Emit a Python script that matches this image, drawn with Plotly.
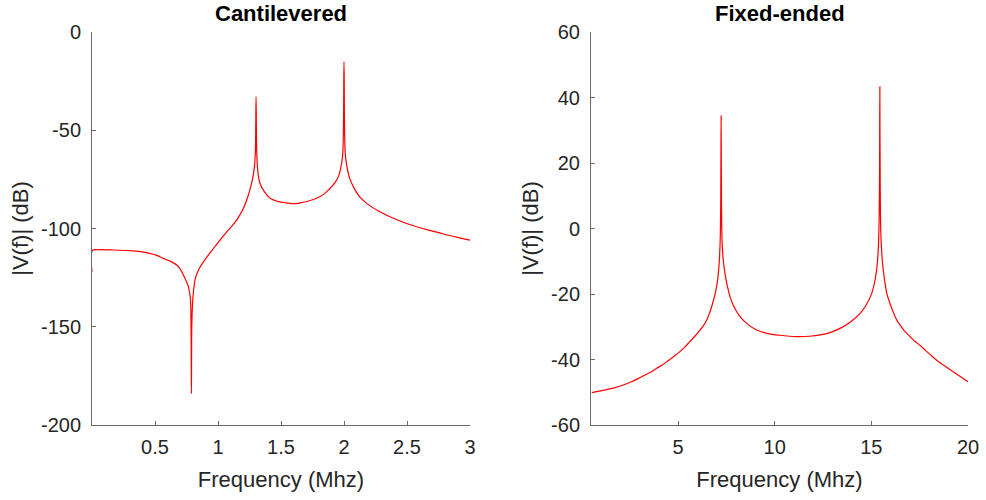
import plotly.graph_objects as go

# ---------------- data ----------------
cant_freq = [0.0, 0.003, 0.05, 0.15, 0.30, 0.45, 0.52, 0.566, 0.62, 0.672, 0.70, 0.725, 0.745,
             0.765, 0.780, 0.786, 0.789, 0.792, 0.798, 0.804, 0.82, 0.85, 0.895, 0.96,
             1.016, 1.08, 1.148, 1.20, 1.228, 1.255, 1.275, 1.29, 1.297, 1.302, 1.307,
             1.315, 1.333, 1.37, 1.413, 1.48, 1.545, 1.60, 1.651, 1.72, 1.783, 1.84,
             1.889, 1.93, 1.955, 1.975, 1.99, 2.0, 2.01, 2.025, 2.045, 2.074, 2.12,
             2.18, 2.27, 2.365, 2.47, 2.577, 2.69, 2.788, 2.9, 3.0]
cant_db = [-122, -111.2, -110.8, -110.9, -111.3, -112.5, -113.8, -115.2, -116.6, -118.6, -120.6,
           -123.7, -126.3, -129.6, -135, -150, -184, -150, -138, -133, -125.5, -120.5,
           -116, -110.5, -105.9, -101, -95.7, -90, -85.5, -80, -74.5, -68, -60, -33, -60,
           -70, -77, -81.5, -84.6, -86.3, -87.0, -87.4, -87.0, -86.0, -84.6, -82.5,
           -79.6, -76.5, -73.6, -69, -62, -15, -62, -69, -74.5, -78.7, -83.5,
           -87.2, -91, -94, -96.8, -99.1, -101.1, -102.8, -104.5, -105.9]

fixed_freq = [0.54, 1.3, 1.75, 2.17, 2.6, 3.0, 3.45, 3.9, 4.2, 4.5, 4.8, 5.1, 5.35, 5.6,
              5.87, 6.14, 6.3, 6.5, 6.62, 6.74, 6.83, 6.92, 7.05, 7.13, 7.18, 7.21, 7.23,
              7.25, 7.28, 7.33, 7.43, 7.55, 7.69, 7.9, 8.21, 8.6, 9.07, 9.6, 10.28, 11.14,
              11.8, 12.35, 12.9, 13.38, 13.9, 14.42, 14.75, 15.02, 15.2, 15.31, 15.38,
              15.42, 15.44, 15.46, 15.50, 15.58, 15.68, 15.8, 16.0, 16.15, 16.31, 16.5,
              16.7, 16.95, 17.17, 17.5, 17.8, 18.1, 18.38, 18.8, 19.2, 19.6, 20.0]
fixed_db = [-50.1, -49.2, -48.6, -47.8, -46.8, -45.6, -44.3, -42.7, -41.6, -40.3, -39.0,
            -37.6, -36.2, -34.6, -32.9, -31.0, -29.8, -27.8, -26.0, -23.9, -22.0, -20,
            -15.7, -10.5, -4, 8, 34.4, 8, -4, -9, -13.7, -17.5, -20.8, -24, -26.9, -29.2,
            -31.0, -32, -32.6, -33.0, -32.9, -32.5, -31.7, -30.5, -28.6, -25.9, -23.2,
            -19.8, -15.5, -10.6, -3, 12, 43.3, 12, -3, -10.6, -15.5, -19.8, -23.5, -25.8,
            -27.9, -29.6, -31.2, -32.7, -34.0, -35.6, -37.2, -38.8, -40.2, -42.0, -43.6,
            -45.2, -46.8]

cant_xticks = [0.5, 1, 1.5, 2, 2.5, 3]
cant_yticks = [0, -50, -100, -150, -200]
fixed_xticks = [5, 10, 15, 20]
fixed_yticks = [60, 40, 20, 0, -20, -40, -60]

titles = ["Cantilevered", "Fixed-ended"]
xlabel = "Frequency (Mhz)"
ylabel = "|V(f)| (dB)"

# ---------------- figure ----------------
FONT = "Liberation Sans, Arial, Helvetica, sans-serif"
TXT = "#262626"
AX = "#6a6a6a"


def labels(vals):
    return [("%g" % v).replace("\u2212", "-") for v in vals]


line_style = dict(color="#ff0000", width=1.2, shape="spline", smoothing=1.0)

fig = go.Figure()
fig.add_trace(go.Scatter(x=cant_freq, y=cant_db, mode="lines", line=line_style,
                         xaxis="x", yaxis="y", showlegend=False))
fig.add_trace(go.Scatter(x=fixed_freq, y=fixed_db, mode="lines", line=line_style,
                         xaxis="x2", yaxis="y2", showlegend=False))

W, H = 986, 500
ydom = [(H - 425) / H, (H - 32) / H]

common_axis = dict(showline=True, linecolor=AX, linewidth=1, showgrid=False, zeroline=False,
                   ticks="inside", ticklen=4, tickcolor=AX, tickwidth=1,
                   tickfont=dict(family=FONT, size=20, color=TXT), automargin=False,
                   mirror=False)
title_font = dict(family=FONT, size=22, color=TXT)

fig.update_layout(
    width=W, height=H,
    margin=dict(l=0, r=0, t=0, b=0),
    paper_bgcolor="white", plot_bgcolor="white",
    font=dict(family=FONT, color=TXT),
    xaxis=dict(domain=[92 / W, 470 / W], range=[0, 3], tickvals=cant_xticks,
               ticktext=labels(cant_xticks), anchor="y",
               title=dict(text=xlabel, font=title_font, standoff=14),
               ticklabelstandoff=4, **common_axis),
    yaxis=dict(domain=ydom, range=[-200, 0], tickvals=cant_yticks,
               ticktext=labels(cant_yticks), anchor="x",
               title=dict(text=ylabel, font=title_font, standoff=6),
               ticklabelstandoff=6, **common_axis),
    xaxis2=dict(domain=[591 / W, 968 / W], range=[0.5, 20], tickvals=fixed_xticks,
                ticktext=labels(fixed_xticks), anchor="y2",
                title=dict(text=xlabel, font=title_font, standoff=14),
                ticklabelstandoff=4, **common_axis),
    yaxis2=dict(domain=ydom, range=[-60, 60], tickvals=fixed_yticks,
                ticktext=labels(fixed_yticks), anchor="x2",
                title=dict(text=ylabel, font=title_font, standoff=6),
                ticklabelstandoff=6, **common_axis),
    annotations=[
        dict(text="<b>%s</b>" % titles[0], x=(92 + 470) / 2 / W, y=1 - 13 / H, xref="paper",
             yref="paper", showarrow=False, xanchor="center", yanchor="middle",
             font=dict(family=FONT, size=22, color="#000000")),
        dict(text="<b>%s</b>" % titles[1], x=(591 + 968) / 2 / W, y=1 - 13 / H, xref="paper",
             yref="paper", showarrow=False, xanchor="center", yanchor="middle",
             font=dict(family=FONT, size=22, color="#000000")),
    ],
)

fig.write_html("out.html")
